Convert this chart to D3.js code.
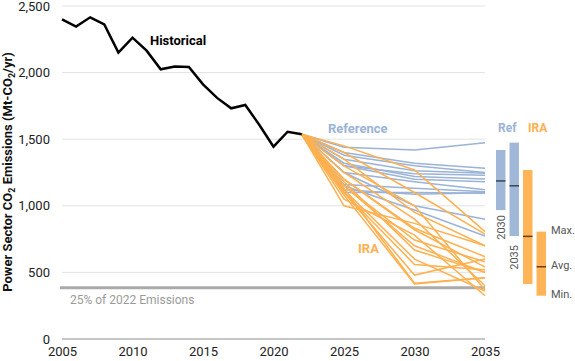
<!DOCTYPE html>
<html>
<head>
<meta charset="utf-8">
<script src="https://cdn.jsdelivr.net/npm/d3@7"></script>
<style>
    body { margin: 0; background: #fff; }
    text { font-family: Roboto, "Noto Sans", sans-serif; }
</style>
</head>
<body>
<div id="chart-area"></div>
<script>
// historical emissions, Mt-CO2/yr
var histYears = [2005, 2006, 2007, 2008, 2009, 2010, 2011, 2012, 2013, 2014, 2015, 2016, 2017, 2018, 2019, 2020, 2021, 2022];
var histValues = [2400, 2345, 2415, 2362, 2150, 2262, 2165, 2025, 2045, 2042, 1912, 1810, 1732, 1757, 1607, 1444, 1556, 1537];

// scenario years (all start from 2022)
var scenYears = [2022, 2025, 2030, 2035];

// reference scenarios: 2025, 2030, 2035
var refScenarios = [
    [1440, 1419, 1474],
    [1400, 1320, 1281],
    [1380, 1300, 1250],
    [1350, 1264, 1244],
    [1320, 1220, 1201],
    [1300, 1199, 1181],
    [1250, 1180, 1120],
    [1160, 1131, 1106],
    [1100, 1100, 1094],
    [1120, 1086, 1098],
    [1250, 1000, 899],
    [1150, 968, 773],
    [1300, 1240, 1230]
];

// IRA scenarios: 2025, 2030, 2035
var iraScenarios = [
    [1450, 1269, 806],
    [1400, 1100, 788],
    [1000, 868, 700],
    [1200, 831, 618],
    [1150, 743, 580],
    [1180, 668, 500],
    [1100, 480, 600],
    [1130, 418, 460],
    [1080, 413, 460],
    [1250, 900, 400],
    [1300, 1000, 368],
    [1120, 600, 360],
    [1050, 780, 325],
    [1200, 820, 540],
    [1350, 950, 700],
    [1150, 700, 500],
    [1100, 560, 520]
];

var yTicks = [0, 500, 1000, 1500, 2000, 2500];
var xTicks = [2005, 2010, 2015, 2020, 2025, 2030, 2035];
var summaryKeys = ["Ref 2030", "Ref 2035", "IRA 2030", "IRA 2035"];

var blue = "#9bb3d6";
var orange = "#ffb04f";

var svg = d3.select("#chart-area")
    .append("svg")
        .attr("width", 575)
        .attr("height", 361);

var x = d3.scaleLinear()
    .domain([2005, 2035])
    .range([62, 485]);

var y = d3.scaleLinear()
    .domain([0, 2500])
    .range([339, 6]);

// gridlines
svg.append("g")
    .selectAll("line")
    .data(yTicks)
    .enter()
    .append("line")
        .attr("x1", x(2005))
        .attr("x2", x(2035))
        .attr("y1", function(d){ return y(d); })
        .attr("y2", function(d){ return y(d); })
        .attr("stroke", function(d){ return d === 0 ? "#8c8c8c" : "#e2e2e2"; })
        .attr("stroke-width", 1);

var yAxisCall = d3.axisLeft(y)
    .tickValues(yTicks)
    .tickSize(0)
    .tickPadding(0)
    .tickFormat(d3.format(","));

svg.append("g")
    .attr("class", "y axis")
    .attr("transform", "translate(50,0)")
    .call(yAxisCall)
    .call(function(g){ g.select(".domain").remove(); })
    .selectAll("text")
        .attr("font-size", "13px")
        .attr("fill", "#222");

var xAxisCall = d3.axisBottom(x)
    .tickValues(xTicks)
    .tickSize(0)
    .tickPadding(0)
    .tickFormat(d3.format("d"));

svg.append("g")
    .attr("class", "x axis")
    .attr("transform", "translate(0,347)")
    .call(xAxisCall)
    .call(function(g){ g.select(".domain").remove(); })
    .selectAll("text")
        .attr("font-size", "13px")
        .attr("fill", "#222");

// y axis title with subscripts
var yTitle = svg.append("text")
    .attr("transform", "translate(12," + 172 + ") rotate(-90)")
    .attr("text-anchor", "middle")
    .attr("font-size", "13px")
    .attr("font-weight", "bold")
    .attr("fill", "#111");
yTitle.append("tspan").text("Power Sector CO");
yTitle.append("tspan").attr("dy", 2.5).attr("font-size", "9px").text("2");
yTitle.append("tspan").attr("dy", -2.5).text(" Emissions (Mt-CO");
yTitle.append("tspan").attr("dy", 2.5).attr("font-size", "9px").text("2");
yTitle.append("tspan").attr("dy", -2.5).text("/yr)");

// 25% of 2022 line
var target = histValues[histValues.length - 1] * 0.25;

svg.append("line")
    .attr("x1", x(2005) - 2)
    .attr("x2", x(2035))
    .attr("y1", y(target))
    .attr("y2", y(target))
    .attr("stroke", "#aaaaaa")
    .attr("stroke-width", 3);

svg.append("text")
    .attr("x", 70)
    .attr("y", 304)
    .attr("font-size", "12px")
    .attr("fill", "#9a9a9a")
    .text("25% of 2022 Emissions");

var line = d3.line()
    .x(function(d){ return x(d[0]); })
    .y(function(d){ return y(d[1]); });

var start = histValues[histValues.length - 1];

function toPoints(s) {
    return scenYears.map(function(yr, i){ return [yr, i === 0 ? start : s[i - 1]]; });
}

svg.append("g")
    .selectAll("path")
    .data(refScenarios)
    .enter()
    .append("path")
        .attr("d", function(d){ return line(toPoints(d)); })
        .attr("fill", "none")
        .attr("stroke", blue)
        .attr("stroke-width", 1.5);

svg.append("g")
    .selectAll("path")
    .data(iraScenarios)
    .enter()
    .append("path")
        .attr("d", function(d){ return line(toPoints(d)); })
        .attr("fill", "none")
        .attr("stroke", orange)
        .attr("stroke-width", 1.5);

svg.append("path")
    .attr("d", line(histYears.map(function(yr, i){ return [yr, histValues[i]]; })))
    .attr("fill", "none")
    .attr("stroke", "#000")
    .attr("stroke-width", 2.5)
    .attr("stroke-linejoin", "miter");

// series labels
svg.append("text")
    .attr("x", 150)
    .attr("y", 45)
    .attr("font-size", "13px")
    .attr("font-weight", "bold")
    .attr("fill", "#000")
    .text("Historical");

svg.append("text")
    .attr("x", 328)
    .attr("y", 133)
    .attr("font-size", "13px")
    .attr("font-weight", "bold")
    .attr("fill", blue)
    .text("Reference");

svg.append("text")
    .attr("x", 358)
    .attr("y", 253)
    .attr("font-size", "13px")
    .attr("font-weight", "bold")
    .attr("fill", orange)
    .text("IRA");

// summary bars: min / max / average
function col(data, i) { return data.map(function(d){ return d[i]; }); }

var summary = [
    { key: "Ref 2030", vals: col(refScenarios, 1), color: blue },
    { key: "Ref 2035", vals: col(refScenarios, 2), color: blue },
    { key: "IRA 2030", vals: col(iraScenarios, 1), color: orange },
    { key: "IRA 2035", vals: col(iraScenarios, 2), color: orange }
];
summary.forEach(function(d){
    d.min = d3.min(d.vals);
    d.max = d3.max(d.vals);
    d.avg = d3.mean(d.vals);
});

var xb = d3.scaleBand()
    .domain(summaryKeys)
    .range([496, 546])
    .paddingInner(0.3)
    .paddingOuter(0);

svg.append("g")
    .selectAll("rect")
    .data(summary)
    .enter()
    .append("rect")
        .attr("x", function(d){ return xb(d.key); })
        .attr("y", function(d){ return y(d.max); })
        .attr("width", xb.bandwidth())
        .attr("height", function(d){ return y(d.min) - y(d.max); })
        .attr("fill", function(d){ return d.color; })
        .attr("opacity", 0.95);

svg.append("g")
    .selectAll("line")
    .data(summary)
    .enter()
    .append("line")
        .attr("x1", function(d){ return xb(d.key); })
        .attr("x2", function(d){ return xb(d.key) + xb.bandwidth(); })
        .attr("y1", function(d){ return y(d.avg); })
        .attr("y2", function(d){ return y(d.avg); })
        .attr("stroke", function(d){ return d.color === blue ? "#3c4450" : "#6b3d10"; })
        .attr("stroke-width", 1.5);

// year labels under the reference bars
svg.append("g")
    .selectAll("text")
    .data(summary.slice(0, 2))
    .enter()
    .append("text")
        .attr("transform", function(d, i){
            return "translate(" + (xb(d.key) + xb.bandwidth() / 2 + 4) + "," + (y(d.min) + 5 + i * 4) + ") rotate(-90)";
        })
        .attr("text-anchor", "end")
        .attr("font-size", "11px")
        .attr("fill", "#555")
        .text(function(d){ return d.key.split(" ")[1]; });

svg.append("text")
    .attr("x", xb("Ref 2030") + 2)
    .attr("y", 132)
    .attr("font-size", "12px")
    .attr("font-weight", "bold")
    .attr("fill", blue)
    .text("Ref");

svg.append("text")
    .attr("x", xb("IRA 2030") + 5)
    .attr("y", 132)
    .attr("font-size", "12px")
    .attr("font-weight", "bold")
    .attr("fill", orange)
    .text("IRA");

var last = summary[3];
var statLabels = [
    { text: "Max.", v: last.max },
    { text: "Avg.", v: last.avg },
    { text: "Min.", v: last.min }
];

svg.append("g")
    .selectAll("text")
    .data(statLabels)
    .enter()
    .append("text")
        .attr("x", 551)
        .attr("y", function(d){ return y(d.v) + 2; })
        .attr("font-size", "11px")
        .attr("fill", "#555")
        .text(function(d){ return d.text; });
</script>
</body>
</html>
